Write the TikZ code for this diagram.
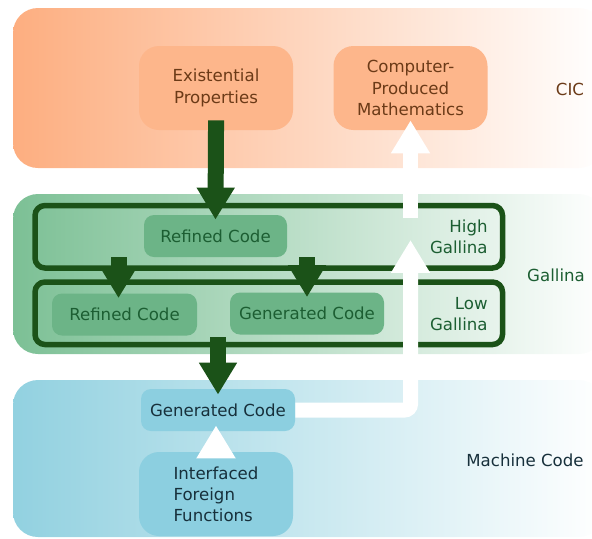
\documentclass[tikz,border=0pt]{standalone}
\usepackage{fontspec}
\setmainfont{DejaVu Sans}
\usetikzlibrary{arrows.meta}

\definecolor{cicband}{HTML}{FDAE80}
\definecolor{cicnode}{HTML}{FDB68B}
\definecolor{cictext}{HTML}{6B3A17}
\definecolor{galband}{HTML}{7CC095}
\definecolor{galnode}{HTML}{6CB487}
\definecolor{galtext}{HTML}{1C5E32}
\definecolor{galdark}{HTML}{1B5218}
\definecolor{mcband}{HTML}{92D1E0}
\definecolor{mcnode}{HTML}{8CCFE0}
\definecolor{mctext}{HTML}{17303B}

\tikzset{
  lbl/.style={font=\fontsize{8.3}{10.6}\selectfont, align=center, inner sep=0pt},
  bignode/.style={lbl, rounded corners=10pt, minimum width=77pt, minimum height=42pt},
  smallnode/.style={lbl, rounded corners=5pt, minimum height=21pt},
  levelbox/.style={draw=galdark, line width=2.75pt, outer sep=0pt, rounded corners=5pt,
    minimum width=233.75pt, minimum height=31.25pt},
  darkarrow/.style={draw=galdark, line width=8pt, -{Triangle[width=18pt,length=16pt]}},
  whitearrow/.style={draw=white, line width=7.5pt, -{Triangle[width=18.5pt,length=16.5pt]}},
}

\begin{document}
\begin{tikzpicture}[x=0.5pt, y=-0.5pt]
\useasboundingbox (0,0) rectangle (592,538);

% Bands
\shade[rounded corners=12.5pt, left color=cicband, right color=white] (13,8) rectangle (604,168);
\shade[rounded corners=12.5pt, left color=galband, right color=white] (13,194) rectangle (604,354);
\shade[rounded corners=12.5pt, left color=mcband, right color=white] (13,380) rectangle (604,537);

% CIC
\node[bignode, fill=cicnode, text=cictext] (ep) at (216,88) {Existential\\Properties};
\node[bignode, fill=cicnode, text=cictext] (cpm) at (410.5,88) {Computer-\\Produced\\Mathematics};
\node[lbl, text=cictext] (cic) at (570,89) {CIC};

% Gallina
\node[levelbox] (high) at (268.75,236.75) {};
\node[levelbox] (low) at (268.75,313.25) {};
\node[smallnode, fill=galnode, text=galtext, minimum width=71.5pt] (rh) at (215.5,236) {Refined Code};
\node[smallnode, fill=galnode, text=galtext, minimum width=72.5pt] (rl) at (124.5,314.5) {Refined Code};
\node[smallnode, fill=galnode, text=galtext, minimum width=77pt] (gl) at (307,313.5) {Generated Code};
\node[lbl, text=galtext, align=right, anchor=east] (hg) at (488,237) {High\\Gallina};
\node[lbl, text=galtext, align=right, anchor=east] (lg) at (488,314) {Low\\Gallina};
\node[lbl, text=galtext] (gal) at (556,275) {Gallina};

% Machine code
\node[smallnode, fill=mcnode, text=mctext, minimum width=77pt] (gb) at (218,410) {Generated Code};
\node[bignode, fill=mcnode, text=mctext, align=left] (iff) at (216,494) {Interfaced\\Foreign\\Functions};
\node[lbl, text=mctext] (mc) at (525,460) {Machine Code};

% Arrows
\draw[darkarrow, shorten <=-5pt, shorten >=-2.5pt] (ep.south) -- (rh.north);
\draw[darkarrow, shorten >=-2.5pt] ([xshift=-3pt]rl.north |- rh.south) -- ([xshift=-3pt]rl.north);
\draw[darkarrow, shorten >=-2.5pt] (gl.north |- rh.south) -- (gl.north);
\draw[darkarrow, shorten <=-3.75pt, shorten >=-3pt] (low.south -| gb.north) -- (gb.north);

\draw[whitearrow, rounded corners=3pt, shorten >=1.6pt] (gb.east) -| (cpm.south |- high.center);
\draw[whitearrow, shorten <=-6.25pt, shorten >=-5pt] (cpm.south |- high.north) -- (cpm.south);
\draw[whitearrow, shorten <=-5pt, shorten >=-3pt] (iff.north) -- (iff.north |- gb.south);

\end{tikzpicture}
\end{document}
